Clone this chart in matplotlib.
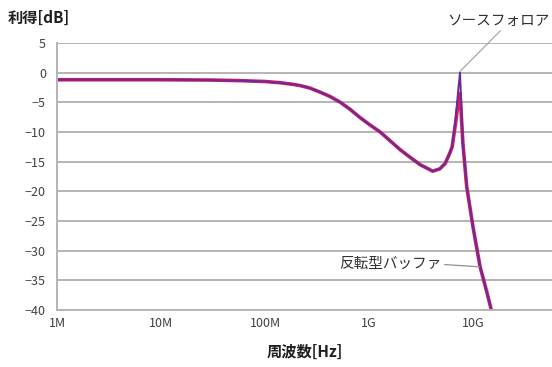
import numpy as np
from matplotlib import pyplot as plt
from matplotlib.ticker import FixedLocator, NullLocator

plt.rcParams['font.family'] = ['Noto Sans CJK JP', 'DejaVu Sans']

freq = [1e6, 3e6, 1e7, 3e7, 5.8e7, 1e8, 1.4e8, 1.9e8, 2.2e8, 2.7e8, 3.4e8,
        4.2e8, 5.3e8, 6.6e8, 8.1e8, 1.02e9, 1.28e9, 1.6e9, 2.0e9, 2.5e9, 3.1e9,
        4.1e9, 4.8e9, 5.4e9, 6.0e9, 6.3e9, 6.8e9, 7.2e9, 7.5e9,
        8.0e9, 8.7e9, 1.0e10, 1.17e10, 1.36e10, 1.55e10]
gainSF = [-1.2, -1.2, -1.2, -1.25, -1.35, -1.5, -1.7, -2.0, -2.2, -2.6, -3.3,
          -4.0, -5.0, -6.2, -7.5, -8.8, -10.0, -11.5, -13.0, -14.3, -15.5,
          -16.6, -16.2, -15.3, -13.5, -12.5, -8.0, -3.0, 0.0,
          -12.0, -19.2, -26.0, -32.7, -37.0, -41.0]
gainINV = [-1.2, -1.2, -1.2, -1.25, -1.35, -1.5, -1.7, -2.0, -2.2, -2.6, -3.3,
           -4.0, -5.0, -6.2, -7.5, -8.8, -10.0, -11.5, -13.0, -14.3, -15.5,
           -16.6, -16.2, -15.3, -13.5, -12.5, -8.5, -5.0, -3.5,
           -12.0, -19.2, -26.0, -32.7, -37.0, -41.0]

xTicks = [1e6, 1e7, 1e8, 1e9, 1e10]
xLabels = ['1M', '10M', '100M', '1G', '10G']
yTicks = list(range(-40, 6, 5))

fig = plt.figure(figsize=(5.52, 3.67), dpi=100)
ax = fig.add_axes([0.1033, 0.155, 0.942, 0.728])

ax.plot(freq, gainINV, color='#d8205a', linewidth=2.6, solid_joinstyle='round')
ax.plot(freq, gainSF, color='#6a2a9a', linewidth=1.4, solid_joinstyle='round')

ax.set_xscale('log')
ax.set_xlim(1e6, 1e11)
ax.set_ylim(-40, 5)
ax.xaxis.set_major_locator(FixedLocator(xTicks))
ax.xaxis.set_minor_locator(NullLocator())
ax.set_xticklabels(xLabels)
ax.set_yticks(yTicks)
ax.tick_params(axis='both', length=0, labelsize=9, colors='#404040')
ax.tick_params(axis='y', pad=8)
ax.tick_params(axis='x', pad=5)

ax.grid(True, axis='y', color='#b4b4b4', linewidth=1.4)
ax.set_axisbelow(True)
for side in ['top', 'right']:
    ax.spines[side].set_visible(False)
for side in ['left', 'bottom']:
    ax.spines[side].set_color('#b4b4b4')
    ax.spines[side].set_linewidth(1.4)

fig.text(0.013, 0.952, '利得[dB]', fontsize=11, fontweight='bold', color='#202020', va='center')
fig.text(0.553, 0.04, '周波数[Hz]', fontsize=11, fontweight='bold', color='#202020', va='center', ha='center')

# call-outs for the two circuits
ax.annotate('ソースフォロア', xy=(7.5e9, 0.2), xytext=(5.6e9, 8.7),
            fontsize=10.5, color='#303030', ha='left', va='center', annotation_clip=False,
            arrowprops=dict(arrowstyle='-', color='#a8a8a8', linewidth=0.9, shrinkA=0, shrinkB=0,
                            relpos=(0.55, 0.0)))
ax.annotate('反転型バッファ', xy=(1.15e10, -32.7), xytext=(5.2e8, -32.3),
            fontsize=10.5, color='#303030', ha='left', va='center',
            arrowprops=dict(arrowstyle='-', color='#909090', linewidth=0.9, shrinkA=0, shrinkB=0,
                            relpos=(1.0, 0.5)))

fig.savefig('out.png', dpi=100)
